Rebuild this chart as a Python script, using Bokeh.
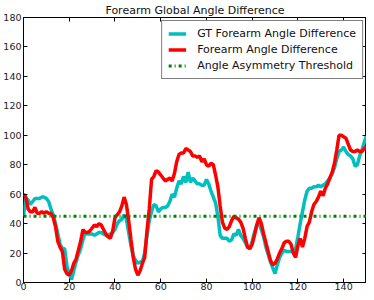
from bokeh.plotting import figure
from bokeh.models import Range1d, LinearAxis, SingleIntervalTicker, Legend, LegendItem
from bokeh.embed import file_html
from bokeh.resources import INLINE

frame_idx = list(range(151))

gt_diff = [45, 57, 56, 53, 55, 57, 57, 57, 58, 58,
           57, 55, 50, 46, 40, 33, 26, 23, 23, 11,
           6, 2, 8, 14, 19, 23, 29, 34, 33, 33,
           33, 32, 33, 34, 34, 33, 32, 32, 33, 34,
           36, 40, 42, 43, 46, 43, 34, 25, 18, 15,
           13, 14, 14, 20, 32, 42, 48, 53, 52, 48,
           50, 51, 51, 52, 55, 60, 58, 64, 69, 67,
           72, 68, 75, 68, 71, 69, 67, 67, 66, 66,
           70, 67, 62, 58, 54, 45, 32, 30, 30, 30,
           28, 29, 33, 32, 36, 32, 30, 27, 24, 23,
           28, 34, 39, 40, 36, 31, 24, 19, 14, 10,
           6, 12, 17, 20, 22, 21, 21, 21, 21, 23,
           31, 40, 48, 56, 62, 64, 64, 65, 65, 66,
           65, 66, 67, 69, 71, 74, 78, 84, 89, 90,
           92, 89, 87, 86, 84, 79, 80, 86, 90, 95,
           100]

est_diff = [60, 58, 50, 48, 48, 51, 47, 47, 48, 47,
            48, 47, 47, 44, 38, 28, 24, 21, 9, 6,
            5, 8, 13, 16, 22, 28, 36, 34, 34, 35,
            37, 39, 38, 40, 39, 36, 33, 31, 30, 35,
            44, 46, 48, 52, 58, 53, 42, 29, 17, 9,
            5, 8, 13, 17, 35, 50, 70, 72, 76, 75,
            73, 71, 69, 70, 71, 69, 74, 82, 87, 88,
            88, 91, 90, 89, 86, 86, 85, 86, 82, 84,
            80, 79, 81, 80, 73, 65, 52, 41, 37, 36,
            38, 42, 45, 44, 43, 41, 37, 30, 24, 23,
            26, 32, 39, 44, 40, 33, 27, 21, 15, 12,
            13, 16, 20, 23, 27, 28, 28, 26, 20, 17,
            25, 30, 24, 30, 38, 41, 48, 53, 55, 58,
            62, 59, 64, 67, 71, 75, 81, 90, 100, 100,
            99, 98, 94, 90, 89, 89, 90, 89, 89, 91,
            92]

threshold = 45
threshold_line = [threshold] * len(frame_idx)

labels = ["GT Forearm Angle Difference", "Forearm Angle Difference",
          "Angle Asymmetry Threshold"]

FONT = "DejaVu Sans"

p = figure(width=366, height=292,
           x_range=Range1d(0, 150), y_range=Range1d(0, 180),
           output_backend="svg", toolbar_location=None,
           title="Forearm Global Angle Difference",
           min_border_left=0, min_border_right=0,
           min_border_top=0, min_border_bottom=0)

p.title.text_font = FONT
p.title.text_font_size = "11px"
p.title.text_font_style = "normal"
p.title.align = "center"
p.title.text_color = "#111111"
p.title.standoff = 2

p.xgrid.visible = False
p.ygrid.visible = False
p.outline_line_color = "black"
p.outline_line_width = 1
p.outline_line_alpha = 1

def style_axis(ax, show_labels=True, standoff=2):
    ax.ticker = SingleIntervalTicker(interval=20, num_minor_ticks=0)
    ax.major_tick_in = 4
    ax.major_tick_out = 0
    ax.minor_tick_line_color = None
    ax.axis_line_color = None
    ax.major_tick_line_color = "black"
    if show_labels:
        ax.major_label_text_font = FONT
        ax.major_label_text_font_size = "9.5px"
        ax.major_label_text_color = "#222222"
        ax.major_label_standoff = standoff
    else:
        ax.major_label_text_font_size = "1px"
        ax.major_label_text_color = None
        ax.major_label_standoff = 0

style_axis(p.xaxis[0], standoff=0)
style_axis(p.yaxis[0], standoff=2)

top_ax = LinearAxis()
style_axis(top_ax, show_labels=False)
p.add_layout(top_ax, "above")
right_ax = LinearAxis()
style_axis(right_ax, show_labels=False)
p.add_layout(right_ax, "right")

r_gt = p.line(frame_idx, gt_diff, line_color="#00BFBF", line_width=3.5)
r_est = p.line(frame_idx, est_diff, line_color="#FF0000", line_width=3.5)
r_thr = p.line(frame_idx, threshold_line, line_color="#008000", line_width=3,
               line_dash="3 3 1 3")

legend = Legend(items=[LegendItem(label=labels[0], renderers=[r_gt]),
                       LegendItem(label=labels[1], renderers=[r_est]),
                       LegendItem(label=labels[2], renderers=[r_thr])],
                location="top_right")
legend.label_text_font = FONT
legend.label_text_font_size = "11px"
legend.label_text_color = "#111111"
legend.glyph_width = 18
legend.glyph_height = 13
legend.label_height = 13
legend.spacing = 3
legend.padding = 6
legend.label_standoff = 11
legend.margin = 3
legend.border_line_color = "black"
legend.border_line_width = 1
legend.background_fill_alpha = 1
p.add_layout(legend)

open("out.html", "w").write(file_html(p, INLINE))
